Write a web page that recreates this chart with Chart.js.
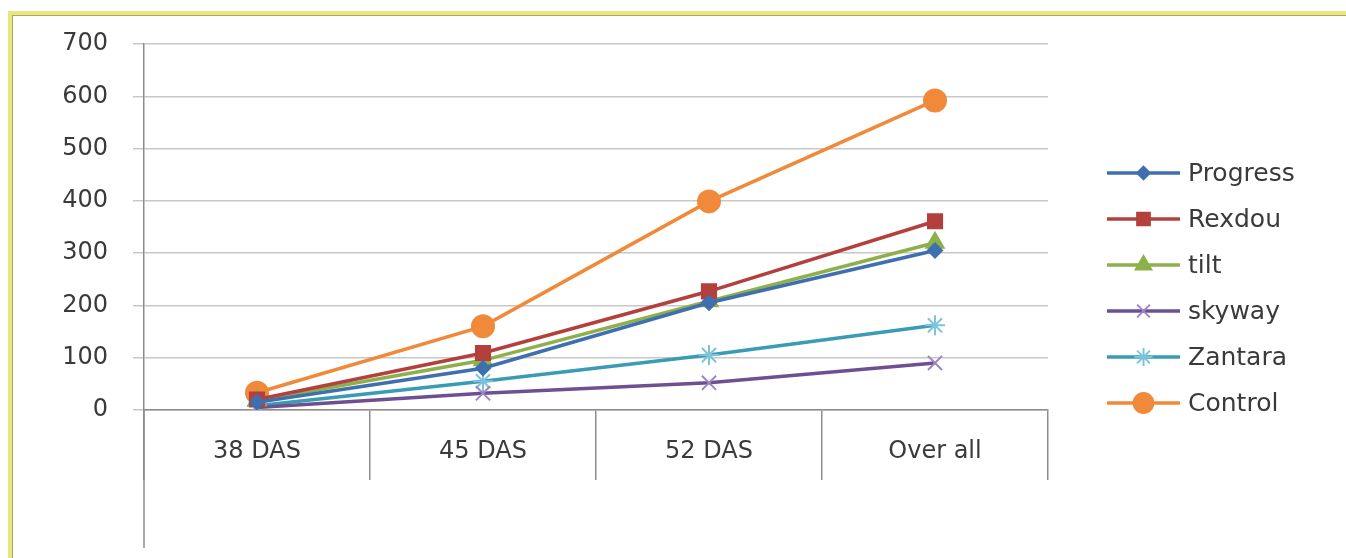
<!DOCTYPE html>
<html>
<head>
<meta charset="utf-8">
<script src="https://cdn.jsdelivr.net/npm/chart.js@4/dist/chart.umd.min.js"></script>
<style>
  html, body { margin: 0; padding: 0; background: #fff; }
  #frame {
    position: absolute; left: 8px; top: 11px; width: 1350px; height: 560px;
    border-top: 4px solid #e8e87a; border-left: 4px solid #e8e87a;
    box-shadow: inset 1px 1px 0 #a8a860;
  }
  #wrap { position: absolute; left: 0; top: 0; width: 1346px; height: 558px; }
</style>
</head>
<body>
<div id="frame"></div>
<div id="wrap"><canvas id="chart"></canvas></div>
<script>

const categories = ["38 DAS", "45 DAS", "52 DAS", "Over all"];

const progress = [15, 80, 205, 305];
const rexdou = [20, 109, 227, 361];
const tilt = [18, 95, 208, 320];
const skyway = [5, 32, 52, 90];
const zantara = [8, 55, 105, 162];
const control = [33, 160, 399, 592];

const yTicks = [0, 100, 200, 300, 400, 500, 600, 700];


function series(label, data, color, pointStyle, radius, markColor) {

    return {
        label: label,
        data: data,
        borderColor: color,
        backgroundColor: color,
        borderWidth: 3.5,
        pointStyle: pointStyle,
        pointRadius: radius,
        pointHoverRadius: radius,
        pointBackgroundColor: markColor || color,
        pointBorderColor: markColor || color,
        pointBorderWidth: 2,
        tension: 0
    };

}


const datasets = [
    series("Progress", progress, "#3f6fae", "rectRot", 7),
    series("Rexdou", rexdou, "#b3403d", "rect", 10),
    series("tilt", tilt, "#8db04a", "triangle", 10),
    series("skyway", skyway, "#6e4f92", "crossRot", 10, "#9d86c4"),
    series("Zantara", zantara, "#3a9bb4", "star", 10, "#7cc4dc"),
    series("Control", control, "#f08a3a", "circle", 11)
];

const textFont = "'DejaVu Sans'";


// legend on the right: short line with the marker in the middle
const sideLegend = {
    id: "sideLegend",
    afterDraw(chart) {
        const ctx = chart.ctx;
        const x0 = 1107, x1 = 1180, top = 173, step = 46;
        ctx.save();
        chart.data.datasets.forEach((ds, i) => {
            const y = top + i * step;
            ctx.strokeStyle = ds.borderColor;
            ctx.lineWidth = 3.5;
            ctx.beginPath();
            ctx.moveTo(x0, y);
            ctx.lineTo(x1, y);
            ctx.stroke();
            ctx.fillStyle = ds.pointBackgroundColor;
            ctx.strokeStyle = ds.pointBorderColor;
            ctx.lineWidth = 2;
            Chart.helpers.drawPoint(ctx, {
                pointStyle: ds.pointStyle,
                radius: ds.pointRadius * 0.9,
                rotation: 0,
                borderWidth: 2
            }, (x0 + x1) / 2, y);
            ctx.fillStyle = "#3a3a3a";
            ctx.font = "25px " + textFont;
            ctx.textBaseline = "middle";
            ctx.textAlign = "left";
            ctx.fillText(ds.label, 1188, y + 1);
        });
        ctx.restore();
    }
};


// the value axis line runs on below the category labels
const longAxis = {
    id: "longAxis",
    afterDraw(chart) {
        const ctx = chart.ctx;
        const a = chart.chartArea;
        ctx.save();
        ctx.strokeStyle = "#8c8c8c";
        ctx.lineWidth = 1.5;
        ctx.beginPath();
        ctx.moveTo(a.left, a.bottom);
        ctx.lineTo(a.left, 548);
        ctx.stroke();
        ctx.restore();
    }
};


new Chart(document.getElementById("chart"), {
    type: "line",
    data: {
        labels: categories,
        datasets: datasets
    },
    plugins: [sideLegend, longAxis],
    options: {
        responsive: true,
        maintainAspectRatio: false,
        animation: false,
        layout: {
            padding: { left: 0, right: 298, top: 44, bottom: 0 }
        },
        plugins: {
            legend: { display: false },
            tooltip: { enabled: false }
        },
        scales: {
            x: {
                offset: true,
                afterFit: s => { s.height = 148; },
                grid: {
                    offset: true,
                    drawOnChartArea: false,
                    tickLength: 70,
                    color: "#8c8c8c",
                    lineWidth: 1.5
                },
                border: { color: "#8c8c8c", width: 1.5 },
                ticks: {
                    padding: -43,
                    color: "#3a3a3a",
                    font: { family: textFont, size: 24 }
                }
            },
            y: {
                min: 0,
                max: 700,
                afterFit: s => { s.width = 144; },
                afterBuildTicks: s => { s.ticks = yTicks.map(v => ({ value: v })); },
                grid: {
                    color: "#c8c8c8",
                    lineWidth: 1.5,
                    tickLength: 11
                },
                border: { color: "#8c8c8c", width: 1.5 },
                ticks: {
                    padding: 25,
                    color: "#3a3a3a",
                    font: { family: textFont, size: 24 }
                }
            }
        }
    }
});

</script>
</body>
</html>
